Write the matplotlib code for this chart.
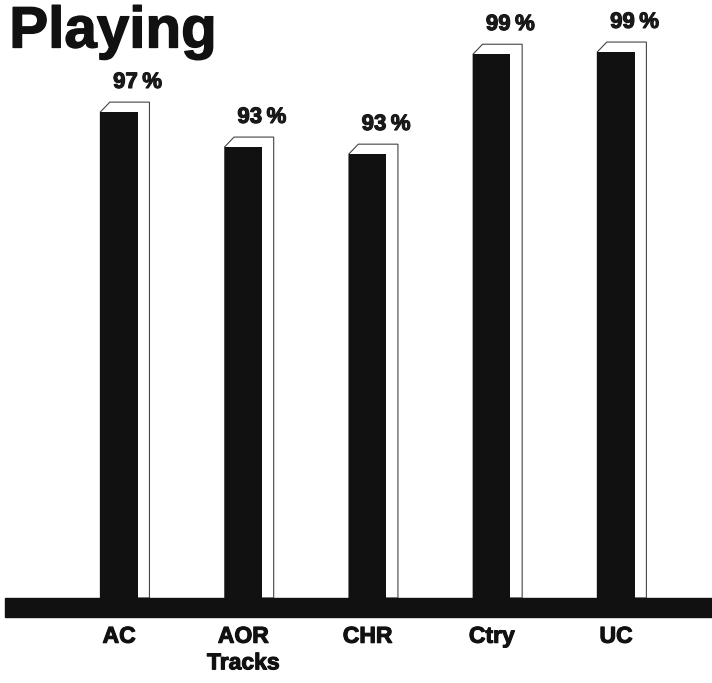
import matplotlib
matplotlib.use("Agg")
import matplotlib.pyplot as plt
from matplotlib.patches import Polygon, Rectangle
import matplotlib.patheffects as pe

# categories and labels as printed on the chart
categories = ["AC", "AOR\nTracks", "CHR", "Ctry", "UC"]
percent_labels = [97, 93, 93, 99, 99]
# drawn bar heights (tallest bar = 100)
bar_heights = [89.0, 82.6, 81.3, 99.6, 100.0]

plt.rcParams["font.family"] = ["Liberation Sans", "DejaVu Sans"]
plt.rcParams["font.weight"] = "bold"

fig = plt.figure(figsize=(7.12, 6.83), dpi=100)
ax = fig.add_axes([0, 0, 1, 1])
ax.set_xlim(-0.958, 4.773)
ax.set_ylim(-15.57, 109.5)
ax.axis("off")

ink = "#111111"
width = 0.30
dx = 0.095   # depth offset of the 3d outline, x
dy = 1.8     # depth offset, y
heavy = [pe.withStroke(linewidth=0.8, foreground=ink)]

# thick base strip
ax.add_patch(Rectangle((-0.92, -3.5), 6, 3.5, color=ink, zorder=3))

for i, (h, pct) in enumerate(zip(bar_heights, percent_labels)):
    left = i - width / 2
    right = i + width / 2
    # white 3d shell behind the bar
    shell = Polygon([(left, h), (left + dx * 0.8, h + dy), (right + dx, h + dy),
                     (right + dx, 0), (left, 0)],
                    closed=True, facecolor="white", edgecolor="#444444",
                    linewidth=0.8, zorder=1)
    ax.add_patch(shell)
    ax.bar(i, h, width=width, bottom=0, color=ink, zorder=2)
    ax.text(i + 0.15, h + dy + 3.6, f"{pct}\u2009%", ha="center", va="center",
            fontsize=16, fontweight="bold", color="#1a1a1a", path_effects=heavy)

for i, cat in enumerate(categories):
    ax.text(i, -4.9, cat, ha="center", va="top", fontsize=16.5,
            fontweight="bold", color=ink, linespacing=1.2, path_effects=heavy)

fig.text(0.013, 0.992, "Playing", ha="left", va="top", fontsize=42,
         fontweight="bold", color=ink,
         path_effects=[pe.withStroke(linewidth=1.0, foreground=ink)])

fig.savefig("out.png", dpi=100)
